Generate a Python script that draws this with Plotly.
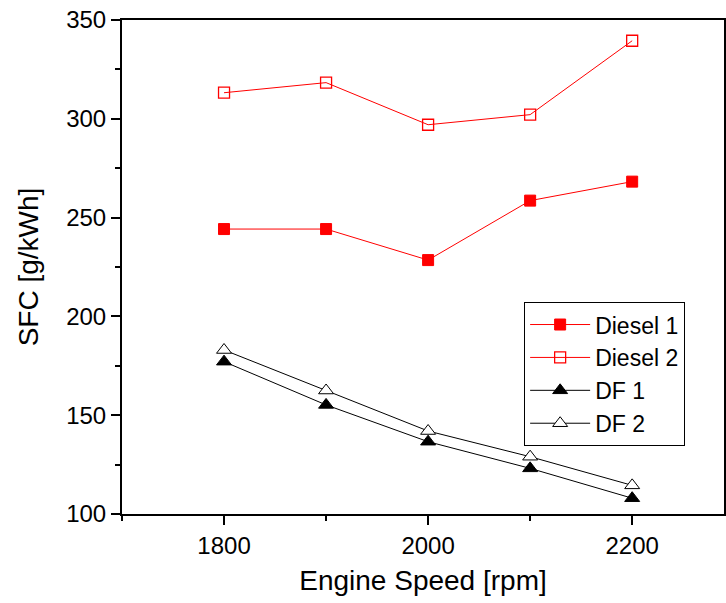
import plotly.graph_objects as go

speed = [1800, 1900, 2000, 2100, 2200]
diesel1 = [244.2, 244.2, 228.5, 258.6, 268.2]
diesel2 = [313.2, 318.3, 297.0, 302.1, 339.5]
df1 = [177.1, 155.2, 136.6, 123.1, 108.0]
df2 = [183.0, 162.5, 142.0, 129.0, 114.5]

font = "Liberation Sans, Arial, sans-serif"

fig = go.Figure()
fig.add_trace(go.Scatter(x=speed, y=diesel1, name="Diesel 1", mode="lines+markers",
                         line=dict(color="red", width=1),
                         marker=dict(symbol="square", size=11, color="red",
                                     line=dict(color="red", width=1))))
fig.add_trace(go.Scatter(x=speed, y=diesel2, name="Diesel 2", mode="lines+markers",
                         line=dict(color="red", width=1),
                         marker=dict(symbol="square-open", size=11, color="red",
                                     line=dict(color="red", width=1.3))))
fig.add_trace(go.Scatter(x=speed, y=df1, name="DF 1", mode="lines+markers",
                         line=dict(color="black", width=1),
                         marker=dict(symbol="triangle-up", size=13, color="black",
                                     line=dict(color="black", width=1))))
fig.add_trace(go.Scatter(x=speed, y=df2, name="DF 2", mode="lines+markers",
                         line=dict(color="black", width=1),
                         marker=dict(symbol="triangle-up", size=13, color="white",
                                     line=dict(color="black", width=1))))

fig.update_layout(
    width=726, height=603,
    margin=dict(l=122, r=0, t=20, b=89),
    plot_bgcolor="white", paper_bgcolor="white",
    font=dict(family=font, size=24, color="black"),
    legend=dict(x=0.668, y=0.429, xanchor="left", yanchor="top",
                bordercolor="black", borderwidth=1, bgcolor="white",
                font=dict(size=23), tracegroupgap=0, itemwidth=60),
    showlegend=True,
)
fig.update_xaxes(range=[1700, 2290], tickvals=[1800, 2000, 2200],
                 ticks="outside", ticklen=9, tickwidth=1.5, tickcolor="black",
                 showline=True, linecolor="black", linewidth=2, mirror=True,
                 showgrid=False, zeroline=False,
                 minor=dict(tickvals=[1700, 1900, 2100], ticks="outside", ticklen=5,
                            tickwidth=1.5, tickcolor="black", showgrid=False),
                 title=dict(text="Engine Speed [rpm]", font=dict(size=28), standoff=13))
fig.update_yaxes(range=[100, 350], tickvals=[100, 150, 200, 250, 300, 350],
                 ticks="outside", ticklen=9, tickwidth=1.5, tickcolor="black",
                 showline=True, linecolor="black", linewidth=2, mirror=True,
                 showgrid=False, zeroline=False,
                 minor=dict(tickvals=[125, 175, 225, 275, 325], ticks="outside", ticklen=5,
                            tickwidth=1.5, tickcolor="black", showgrid=False),
                 title=dict(text="SFC [g/kWh]", font=dict(size=28), standoff=19))

fig.write_html("out.html")
